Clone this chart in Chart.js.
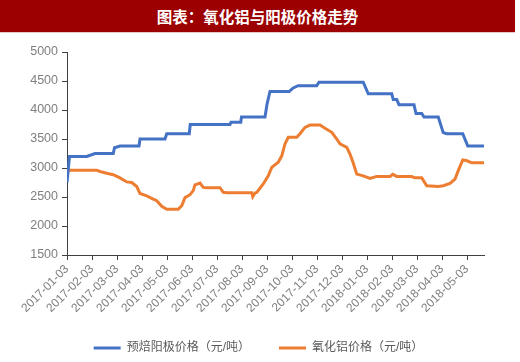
<!DOCTYPE html>
<html>
<head>
<meta charset="utf-8">
<script src="https://cdn.jsdelivr.net/npm/chart.js@4.4.1/dist/chart.umd.min.js"></script>
<style>
  body { margin: 0; background: #fff; }
  #titleBar {
    width: 515px; height: 33px; background: #9c0000; color: #fff;
    font: bold 15.5px "Noto Sans CJK SC", sans-serif; line-height: 33px;
    text-align: center; border-bottom: 1px solid #e8c8c8; box-sizing: border-box;
  }
  #wrap { position: relative; width: 520px; height: 329px; }
</style>
</head>
<body>
<div id="titleBar">图表：氧化铝与阳极价格走势</div>
<div id="wrap"><canvas id="priceChart"></canvas></div>
<script>
// month labels on the x axis (x value = months since 2017-01-03)
const monthLabels = ['2017-01-03', '2017-02-03', '2017-03-03', '2017-04-03', '2017-05-03', '2017-06-03',
    '2017-07-03', '2017-08-03', '2017-09-03', '2017-10-03', '2017-11-03', '2017-12-03',
    '2018-01-03', '2018-02-03', '2018-03-03', '2018-04-03', '2018-05-03'];

// 预焙阳极价格（元/吨）
const anodeMonths = [0, 0.1, 0.79, 1.12, 1.85, 1.9, 2.12, 2.88, 2.92, 3.92, 3.99, 4.89, 4.93, 6.52, 6.56,
    6.95, 6.98, 7.92, 8.0, 8.12, 8.89, 9.05, 9.24, 9.99, 10.08, 11.85, 12.05, 12.99, 13.05, 13.19, 13.28,
    13.88, 13.96, 14.19, 14.28, 14.85, 15.05, 15.19, 15.83, 16.03, 16.68];
const anodePrices = [2750, 3200, 3200, 3250, 3250, 3350, 3380, 3380, 3500, 3500, 3590, 3590, 3750, 3750, 3790,
    3790, 3880, 3880, 4100, 4320, 4320, 4380, 4420, 4420, 4480, 4480, 4280, 4280, 4180, 4180, 4090,
    4090, 3940, 3940, 3880, 3880, 3610, 3590, 3590, 3380, 3380];

// 氧化铝价格（元/吨）
const aluminaMonths = [0, 1.19, 1.32, 1.59, 1.85, 2.12, 2.39, 2.59, 2.79, 2.92, 3.19, 3.45, 3.59, 3.79, 3.99,
    4.45, 4.59, 4.72, 4.92, 5.05, 5.12, 5.32, 5.45, 5.59, 6.12, 6.25, 6.39, 7.39, 7.43, 7.52, 7.59, 7.85,
    8.05, 8.19, 8.45, 8.59, 8.72, 8.85, 9.19, 9.32, 9.52, 9.72, 10.12, 10.32, 10.59, 10.79, 10.92, 11.19,
    11.32, 11.45, 11.59, 11.85, 12.12, 12.39, 12.92, 13.03, 13.19, 13.79, 13.9, 14.19, 14.39, 14.85, 15.05,
    15.32, 15.52, 15.65, 15.83, 16.0, 16.19, 16.68];
const aluminaPrices = [2960, 2960, 2940, 2910, 2885, 2830, 2760, 2750, 2680, 2560, 2520, 2465, 2435, 2340, 2290,
    2290, 2350, 2490, 2540, 2610, 2710, 2740, 2665, 2660, 2660, 2580, 2575, 2575, 2505, 2570, 2580, 2725,
    2865, 3010, 3100, 3210, 3415, 3530, 3530, 3590, 3700, 3740, 3740, 3685, 3615, 3500, 3415, 3355,
    3240, 3085, 2895, 2865, 2820, 2855, 2855, 2890, 2855, 2855, 2830, 2830, 2695, 2680, 2695,
    2735, 2810, 2955, 3140, 3125, 3090, 3090];

const yTicks = [1500, 2000, 2500, 3000, 3500, 4000, 4500, 5000];

function toPoints(xs, ys) {
    return xs.map((x, i) => ({ x: x, y: ys[i] }));
}

const fontFamily = '"Liberation Sans", "Noto Sans CJK SC", sans-serif';
const axisColor = '#404040';

const ctx = document.getElementById('priceChart').getContext('2d');
new Chart(ctx, {
    type: 'line',
    data: {
        datasets: [
            {
                label: '预焙阳极价格（元/吨）',
                data: toPoints(anodeMonths, anodePrices),
                borderColor: '#4472c4',
                backgroundColor: '#4472c4',
                borderWidth: 3,
                pointRadius: 0,
                tension: 0
            },
            {
                label: '氧化铝价格（元/吨）',
                data: toPoints(aluminaMonths, aluminaPrices),
                borderColor: '#ed7d31',
                backgroundColor: '#ed7d31',
                borderWidth: 3,
                pointRadius: 0,
                tension: 0
            }
        ]
    },
    options: {
        responsive: true,
        maintainAspectRatio: false,
        animation: false,
        layout: { padding: { top: 19, right: 3, left: 0, bottom: -2 } },
        plugins: {
            title: { display: false },
            tooltip: { enabled: false },
            legend: {
                position: 'bottom',
                labels: {
                    usePointStyle: true,
                    pointStyle: 'line',
                    pointStyleWidth: 27,
                    boxHeight: 12,
                    padding: 29,
                    color: '#595959',
                    font: { family: fontFamily, size: 12 }
                }
            }
        },
        scales: {
            x: {
                type: 'linear',
                min: 0,
                max: 16.68,
                afterBuildTicks: scale => {
                    scale.ticks = monthLabels.map((l, i) => ({ value: i }));
                },
                afterFit: scale => { scale.height = 58; },
                ticks: {
                    autoSkip: false,
                    minRotation: 45,
                    maxRotation: 45,
                    padding: 2,
                    color: '#7f7f7f',
                    font: { family: fontFamily, size: 12 },
                    callback: value => monthLabels[value]
                },
                grid: { drawOnChartArea: false, drawTicks: true, tickLength: 5, color: axisColor },
                border: { color: axisColor, width: 1 }
            },
            y: {
                min: 1500,
                max: 5000,
                afterBuildTicks: scale => {
                    scale.ticks = yTicks.map(v => ({ value: v }));
                },
                afterFit: scale => { scale.width = 67; },
                ticks: {
                    padding: 4,
                    color: '#7f7f7f',
                    font: { family: fontFamily, size: 12.5 },
                    callback: value => String(value)
                },
                grid: { drawOnChartArea: false, drawTicks: true, tickLength: 5, color: axisColor },
                border: { color: axisColor, width: 1 }
            },
            // empty right-hand spacer so the plot ends where the original does
            spacer: {
                position: 'right',
                ticks: { display: false },
                grid: { display: false },
                border: { display: false },
                afterFit: scale => { scale.width = 33; }
            }
        }
    }
});
</script>
</body>
</html>
